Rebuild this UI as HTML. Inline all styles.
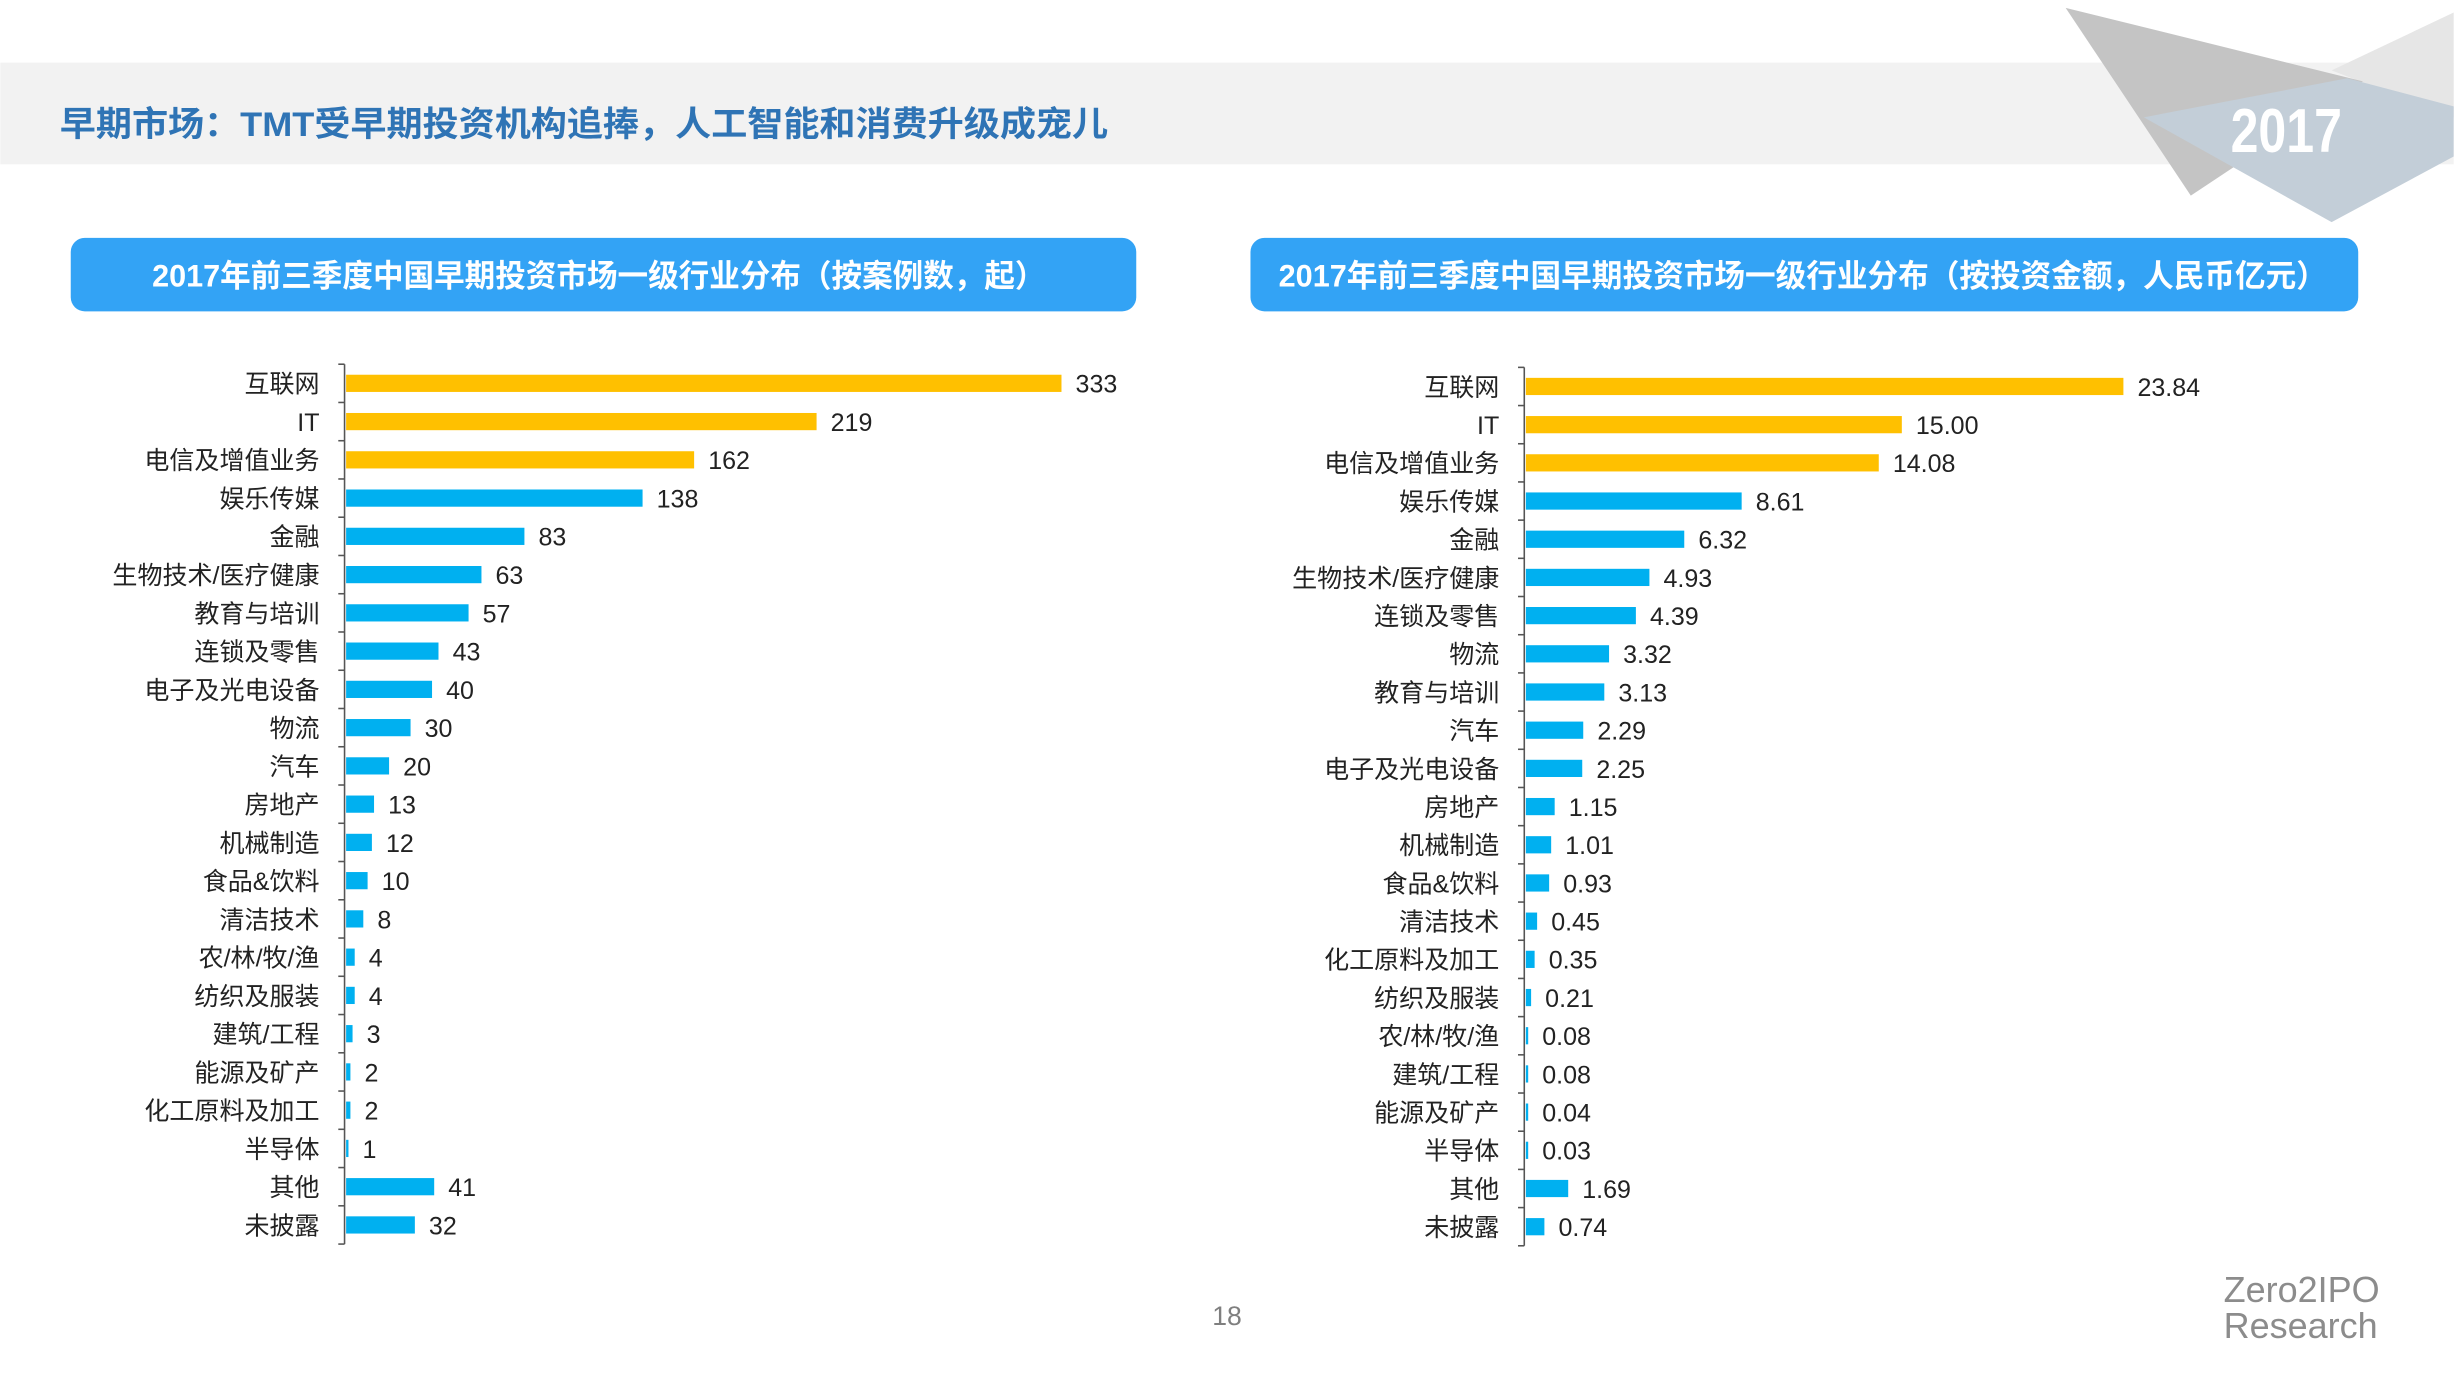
<!DOCTYPE html>
<html><head><meta charset="utf-8"><style>
html,body{margin:0;padding:0;background:#fff;}
svg{display:block;}
text{font-family:"Liberation Sans","Noto Sans CJK SC",sans-serif;}
</style></head><body>
<svg width="2454" height="1380" viewBox="0 0 1568 882" xmlns="http://www.w3.org/2000/svg">
<rect width="1568" height="882" fill="#fff"/>
<rect x="0" y="40" width="1568" height="65" fill="#f2f2f2"/>
<text x="38" y="87" font-size="22" font-weight="bold" fill="#2f74b5" textLength="670" lengthAdjust="spacingAndGlyphs">早期市场：TMT受早期投资机构追捧，人工智能和消费升级成宠儿</text>
<polygon points="1490,45 1568,8 1568,75" fill="#e6e6e6"/>
<polygon points="1320,5 1510,52 1400,125" fill="#c4c4c4"/>
<polygon points="1370,75 1500,50 1568,68 1568,100 1490,142" fill="#c3ced8"/>
<text x="1461" y="97" font-size="40" font-weight="bold" fill="#fff" text-anchor="middle" transform="translate(1461,0) scale(0.8,1) translate(-1461,0)">2017</text>
<rect x="45" y="152" width="681" height="47" rx="9" fill="#33a3f5"/>
<rect x="799" y="152" width="708" height="47" rx="9" fill="#33a3f5"/>
<text x="97" y="183" font-size="20" font-weight="bold" fill="#fff" textLength="571" lengthAdjust="spacingAndGlyphs">2017年前三季度中国早期投资市场一级行业分布（按案例数，起）</text>
<text x="817" y="183" font-size="20" font-weight="bold" fill="#fff" textLength="670" lengthAdjust="spacingAndGlyphs">2017年前三季度中国早期投资市场一级行业分布（按投资金额，人民币亿元）</text>
<g id="L"></g><g id="R"></g>
<text x="784" y="847" font-size="17" fill="#7f7f7f" text-anchor="middle">18</text>
<text x="1421" y="832" font-size="23" fill="#8c8c8c">Zero2IPO</text>
<text x="1421" y="855" font-size="23" fill="#8c8c8c">Research</text>
</svg>
<script>
function chart(id,ax,y0,step,scale,data,fmt){
 var g=document.getElementById(id),h='';
 h+='<line x1="'+ax+'" y1="'+(y0-step/2)+'" x2="'+ax+'" y2="'+(y0+step*(data.length-0.5))+'" stroke="#555" stroke-width="1"/>';
 data.forEach(function(d,i){
  var y=y0+i*step;
  h+='<line x1="'+(ax-4)+'" y1="'+(y-step/2)+'" x2="'+ax+'" y2="'+(y-step/2)+'" stroke="#555" stroke-width="1"/>';
  var w=d[1]*scale; if(w<1.5)w=1.5;
  var c=i<3?'#ffc000':'#00b0f0';
  h+='<rect x="'+(ax+1)+'" y="'+(y-5.5)+'" width="'+w+'" height="11" fill="'+c+'"/>';
  h+='<text x="'+(ax-16)+'" y="'+(y+6)+'" font-size="16" fill="#222" text-anchor="end">'+d[0]+'</text>';
  h+='<text x="'+(ax+w+10)+'" y="'+(y+6)+'" font-size="16" fill="#222">'+(fmt?d[1].toFixed(2):d[1])+'</text>';
 });
 h+='<line x1="'+(ax-4)+'" y1="'+(y0+step*(data.length-0.5))+'" x2="'+ax+'" y2="'+(y0+step*(data.length-0.5))+'" stroke="#555"/>';
 g.innerHTML=h;
}
chart('L',220,245,24.45,1.373,[["互联网",333],["IT",219],["电信及增值业务",162],["娱乐传媒",138],["金融",83],["生物技术/医疗健康",63],["教育与培训",57],["连锁及零售",43],["电子及光电设备",40],["物流",30],["汽车",20],["房地产",13],["机械制造",12],["食品&饮料",10],["清洁技术",8],["农/林/牧/渔",4],["纺织及服装",4],["建筑/工程",3],["能源及矿产",2],["化工原料及加工",2],["半导体",1],["其他",41],["未披露",32]],false);
chart('R',974,247,24.41,16.02,[["互联网",23.84],["IT",15.00],["电信及增值业务",14.08],["娱乐传媒",8.61],["金融",6.32],["生物技术/医疗健康",4.93],["连锁及零售",4.39],["物流",3.32],["教育与培训",3.13],["汽车",2.29],["电子及光电设备",2.25],["房地产",1.15],["机械制造",1.01],["食品&饮料",0.93],["清洁技术",0.45],["化工原料及加工",0.35],["纺织及服装",0.21],["农/林/牧/渔",0.08],["建筑/工程",0.08],["能源及矿产",0.04],["半导体",0.03],["其他",1.69],["未披露",0.74]],true);
</script>
</body></html>
